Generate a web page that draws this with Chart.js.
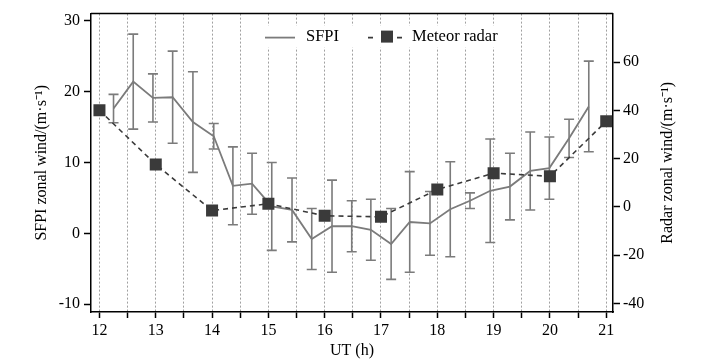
<!DOCTYPE html>
<html>
<head>
<meta charset="utf-8">
<script src="https://cdn.jsdelivr.net/npm/chart.js@4"></script>
<style>
  body { margin: 0; background: #fff; }
  canvas { display: block; }
</style>
</head>
<body>
<canvas id="windChart" width="710" height="364"></canvas>
<script>
// SFPI, ~20 min samples (hours UT)
var sfpiTime = [12.25, 12.60, 12.95, 13.30, 13.66, 14.03, 14.37, 14.71, 15.06, 15.42, 15.77, 16.13, 16.48,
                16.82, 17.18, 17.51, 17.87, 18.23, 18.58, 18.94, 19.29, 19.65, 19.99, 20.34, 20.69];
var sfpiWind = [17.6, 21.4, 19.1, 19.2, 15.7, 13.7, 6.7, 7.0, 3.8, 3.3, -0.8, 1.0, 1.0,
                0.5, -1.5, 1.6, 1.4, 3.4, 4.6, 6.0, 6.6, 8.8, 9.2, 13.4, 17.9];
var sfpiErr  = [2.0, 6.7, 3.4, 6.5, 7.1, 1.8, 5.5, 4.3, 6.2, 4.5, 4.3, 6.5, 3.6,
                4.3, 5.0, 7.1, 4.5, 6.7, 1.1, 7.3, 4.7, 5.5, 4.4, 2.7, 6.4];

// meteor radar, hourly
var radarTime = [12, 13, 14, 15, 16, 17, 18, 19, 20, 21];
var radarWind = [40.1, 17.6, -1.5, 1.3, -3.7, -4.1, 7.2, 14.0, 12.7, 35.5];

// tick labels
var xHours = [12, 13, 14, 15, 16, 17, 18, 19, 20, 21];
var sfpiTicks = [-10, 0, 10, 20, 30];
var radarTicks = [-40, -20, 0, 20, 40, 60];

var sfpiColor = '#7b7b7b';
var radarColor = '#3a3a3a';
var serif = '"Liberation Serif", "Times New Roman", serif';
var tickFont = { family: serif, size: 16 };
var titleFont = { family: serif, size: 16 };
var radarTitle = 'Radar zonal wind/(m·s⁻¹)';

// grid every half hour
var xTicks = [];
xHours.forEach(function (h, i) {
    xTicks.push(h);
    if (i < xHours.length - 1) xTicks.push(h + 0.5);
});

// error bars for the SFPI series
var errorBars = {
    id: 'errorBars',
    beforeDatasetsDraw: function (chart) {
        var ctx = chart.ctx, x = chart.scales.x, y = chart.scales.y;
        ctx.save();
        ctx.strokeStyle = sfpiColor;
        ctx.lineWidth = 1.6;
        sfpiTime.forEach(function (t, i) {
            var px = x.getPixelForValue(t);
            var top = y.getPixelForValue(sfpiWind[i] + sfpiErr[i]);
            var bot = y.getPixelForValue(sfpiWind[i] - sfpiErr[i]);
            ctx.beginPath();
            ctx.moveTo(px, top); ctx.lineTo(px, bot);
            ctx.moveTo(px - 5, top); ctx.lineTo(px + 5, top);
            ctx.moveTo(px - 5, bot); ctx.lineTo(px + 5, bot);
            ctx.stroke();
        });
        ctx.restore();
    }
};

// legend inside the plot with line samples, top frame line, right title read bottom-up
var boxLegend = {
    id: 'boxLegend',
    afterDraw: function (chart) {
        var ctx = chart.ctx, a = chart.chartArea;
        var left = a.left + 168, top = a.top + 12;
        var ly = top + 11;
        ctx.save();
        ctx.fillStyle = '#fff';
        ctx.fillRect(left, top, 250, 22);

        ctx.strokeStyle = sfpiColor;
        ctx.lineWidth = 1.8;
        ctx.beginPath();
        ctx.moveTo(left + 6, ly + 1); ctx.lineTo(left + 36, ly + 1);
        ctx.stroke();

        ctx.strokeStyle = radarColor;
        ctx.lineWidth = 1.6;
        ctx.beginPath();
        ctx.moveTo(left + 109, ly + 1); ctx.lineTo(left + 114, ly + 1);
        ctx.moveTo(left + 138, ly + 1); ctx.lineTo(left + 143, ly + 1);
        ctx.stroke();
        ctx.fillStyle = radarColor;
        ctx.fillRect(left + 122, ly - 6, 12, 12);

        ctx.fillStyle = '#000';
        ctx.font = '16.5px ' + serif;
        ctx.textBaseline = 'middle';
        ctx.fillText(chart.data.datasets[1].label, left + 47, ly);
        ctx.fillText(chart.data.datasets[0].label, left + 153, ly);

        // top edge of the frame
        ctx.strokeStyle = '#000';
        ctx.lineWidth = 1.5;
        ctx.beginPath();
        ctx.moveTo(a.left, a.top); ctx.lineTo(a.right, a.top);
        ctx.stroke();

        // right axis title
        var r = chart.scales.y1;
        ctx.translate(r.right - 42, (a.top + a.bottom) / 2);
        ctx.rotate(-Math.PI / 2);
        ctx.font = '16px ' + serif;
        ctx.textAlign = 'center';
        ctx.fillText(radarTitle, 0, 0);
        ctx.restore();
    }
};

var windChart = new Chart(document.getElementById('windChart'), {
    type: 'line',
    data: {
        datasets: [
            {
                label: 'Meteor radar',
                data: radarTime.map(function (t, i) { return { x: t, y: radarWind[i] }; }),
                yAxisID: 'y1',
                borderColor: radarColor,
                borderWidth: 1.6,
                borderDash: [5, 4],
                pointStyle: 'rect',
                pointRadius: 8.5,
                pointBackgroundColor: radarColor,
                pointBorderWidth: 0,
                fill: false,
                tension: 0
            },
            {
                label: 'SFPI',
                data: sfpiTime.map(function (t, i) { return { x: t, y: sfpiWind[i] }; }),
                yAxisID: 'y',
                borderColor: sfpiColor,
                borderWidth: 1.8,
                pointRadius: 0,
                fill: false,
                tension: 0
            }
        ]
    },
    options: {
        responsive: false,
        animation: false,
        devicePixelRatio: 1,
        layout: { padding: { top: 12, left: 0, right: 0, bottom: 0 } },
        plugins: {
            legend: { display: false },
            tooltip: { enabled: false }
        },
        scales: {
            x: {
                type: 'linear',
                position: 'bottom',
                min: 11.85,
                max: 21.12,
                afterFit: function (s) { s.height = 52; },
                afterBuildTicks: function (s) { s.ticks = xTicks.map(function (v) { return { value: v }; }); },
                ticks: {
                    autoSkip: false,
                    maxRotation: 0,
                    padding: 3,
                    color: '#000',
                    font: tickFont,
                    callback: function (v) { return Number.isInteger(v) ? String(v) : ''; }
                },
                grid: { color: '#a0a0a0', lineWidth: 1, tickLength: 6, tickColor: '#000', tickWidth: 1.5 },
                border: { color: '#000', width: 1.5, dash: [2, 2] },
                title: { display: true, text: 'UT (h)', color: '#000', font: titleFont, padding: { top: 0, bottom: 4 } }
            },
            y: {
                position: 'left',
                min: -11.1,
                max: 31.0,
                afterFit: function (s) { s.width = 91; },
                afterBuildTicks: function (s) { s.ticks = sfpiTicks.map(function (v) { return { value: v }; }); },
                ticks: { padding: 4, color: '#000', font: tickFont },
                grid: { drawOnChartArea: false, tickLength: 7, tickColor: '#000', tickWidth: 1.5 },
                border: { color: '#000', width: 1.5 },
                title: { display: true, text: 'SFPI zonal wind/(m·s⁻¹)', color: '#000', font: titleFont, padding: { top: 32, bottom: 0 } }
            },
            y1: {
                position: 'right',
                min: -43.6,
                max: 80.2,
                afterFit: function (s) { s.width = 97; },
                afterBuildTicks: function (s) { s.ticks = radarTicks.map(function (v) { return { value: v }; }); },
                ticks: { padding: 3, color: '#000', font: tickFont },
                grid: { drawOnChartArea: false, tickLength: 7, tickColor: '#000', tickWidth: 1.5 },
                border: { color: '#000', width: 1.5 },
                title: { display: false }
            }
        }
    },
    plugins: [errorBars, boxLegend]
});
</script>
</body>
</html>
